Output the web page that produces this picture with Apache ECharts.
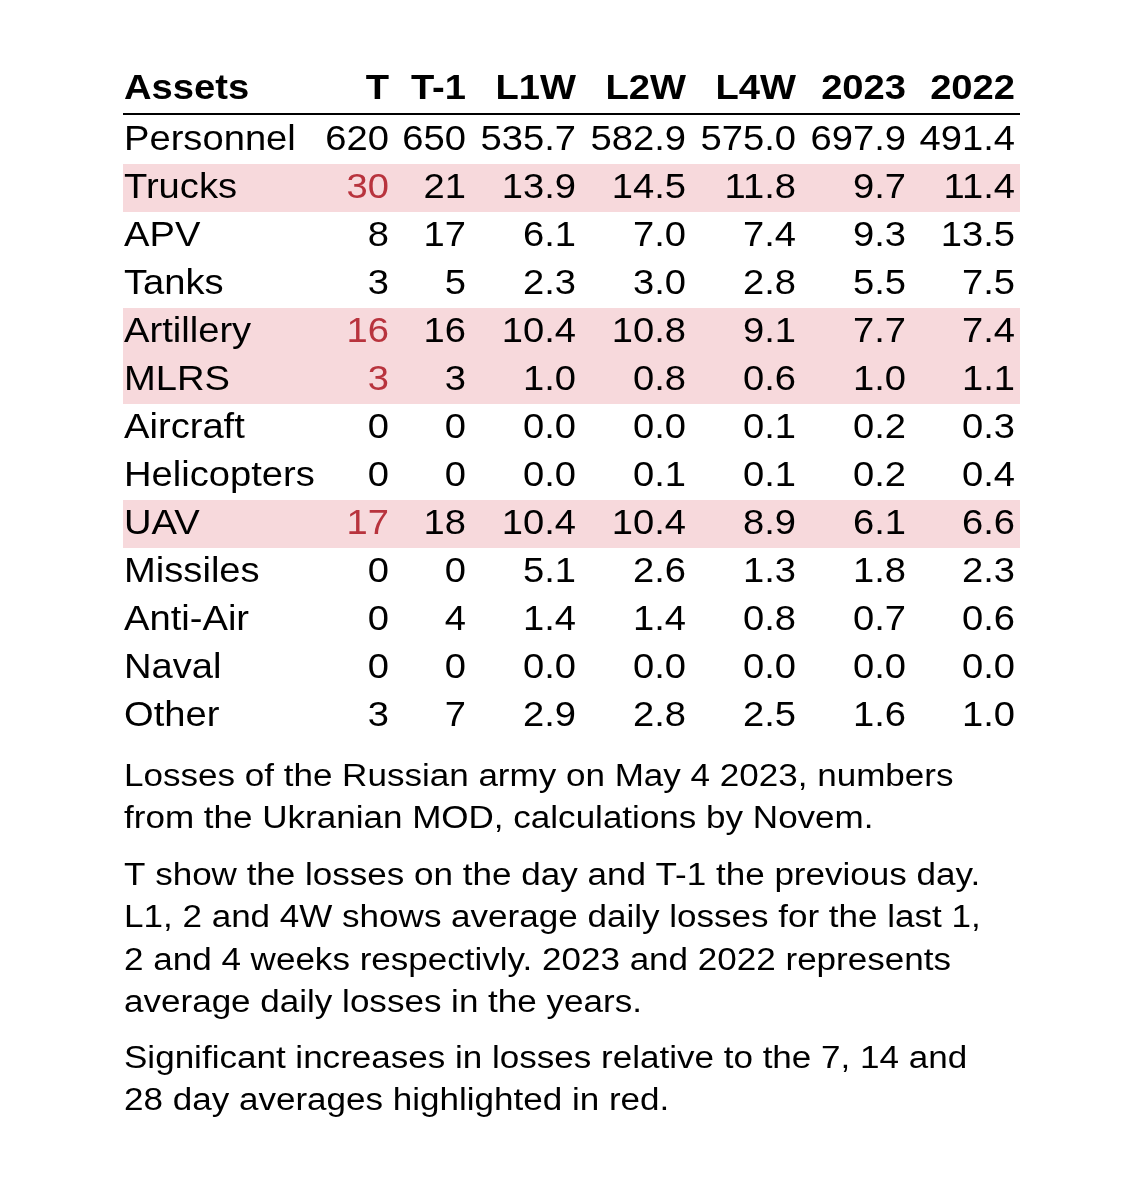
<!DOCTYPE html>
<html><head><meta charset="utf-8">
<script src="https://cdn.jsdelivr.net/npm/echarts@6/dist/echarts.min.js"></script>
<style>html,body{margin:0;background:#fff}#chart{width:1140px;height:1182px}</style>
</head><body><div id="chart"></div>
<script>
var columns = ['Assets', 'T', 'T-1', 'L1W', 'L2W', 'L4W', '2023', '2022'];
var assets = ['Personnel', 'Trucks', 'APV', 'Tanks', 'Artillery', 'MLRS', 'Aircraft', 'Helicopters', 'UAV', 'Missiles', 'Anti-Air', 'Naval', 'Other'];
var tVals = ['620', '30', '8', '3', '16', '3', '0', '0', '17', '0', '0', '0', '3'];
var t1Vals = ['650', '21', '17', '5', '16', '3', '0', '0', '18', '0', '4', '0', '7'];
var l1wVals = ['535.7', '13.9', '6.1', '2.3', '10.4', '1.0', '0.0', '0.0', '10.4', '5.1', '1.4', '0.0', '2.9'];
var l2wVals = ['582.9', '14.5', '7.0', '3.0', '10.8', '0.8', '0.0', '0.1', '10.4', '2.6', '1.4', '0.0', '2.8'];
var l4wVals = ['575.0', '11.8', '7.4', '2.8', '9.1', '0.6', '0.1', '0.1', '8.9', '1.3', '0.8', '0.0', '2.5'];
var y2023Vals = ['697.9', '9.7', '9.3', '5.5', '7.7', '1.0', '0.2', '0.2', '6.1', '1.8', '0.7', '0.0', '1.6'];
var y2022Vals = ['491.4', '11.4', '13.5', '7.5', '7.4', '1.1', '0.3', '0.4', '6.6', '2.3', '0.6', '0.0', '1.0'];
var highlighted = ['Trucks', 'Artillery', 'MLRS', 'UAV'];

// right edge of each value column (x axis runs over the page width)
var colRight = [124, 389, 466, 576, 686, 796, 906, 1015];
var font = 'Liberation Sans, Arial, sans-serif';
var stretch = 1.09;

var rows = assets.map(function (a, i) {
  return [i, a, tVals[i], t1Vals[i], l1wVals[i], l2wVals[i], l4wVals[i], y2023Vals[i], y2022Vals[i]];
});

var chart = echarts.init(document.getElementById('chart'));

function cellText(x, y, text, align, fill) {
  return {type: 'text', x: x, y: y, scaleX: stretch,
    style: {x: 0, y: 0, text: text, font: '35px ' + font, fill: fill, textVerticalAlign: 'middle', textAlign: align}};
}

function renderRow(params, api) {
  var i = api.value(0);
  var name = assets[i];
  var y = api.coord([0, i])[1];
  var h = api.size([0, 1])[1];
  var hl = highlighted.indexOf(name) >= 0;
  var kids = [];
  if (hl) {
    var l = api.coord([123, i])[0], r = api.coord([1020, i])[0];
    kids.push({type: 'rect', shape: {x: l, y: y - h / 2, width: r - l, height: h}, style: {fill: '#f7d9dc'}});
  }
  kids.push(cellText(api.coord([colRight[0], i])[0], y, name, 'left', '#000'));
  for (var k = 1; k < 8; k++) {
    kids.push(cellText(api.coord([colRight[k], i])[0], y, rows[i][k + 1], 'right', (hl && k === 1) ? '#b8333d' : '#000'));
  }
  return {type: 'group', children: kids};
}

var headerEls = columns.map(function (c, k) {
  return {type: 'text', x: colRight[k], y: 89, scaleX: stretch,
    style: {x: 0, y: 0, text: c, font: 'bold 35px ' + font, fill: '#000', textAlign: k === 0 ? 'left' : 'right', textVerticalAlign: 'middle'}};
});

var notes = [
  {top: 756, text: 'Losses of the Russian army on May 4 2023, numbers\nfrom the Ukranian MOD, calculations by Novem.'},
  {top: 855, text: 'T show the losses on the day and T-1 the previous day.\nL1, 2 and 4W shows average daily losses for the last 1,\n2 and 4 weeks respectivly. 2023 and 2022 represents\naverage daily losses in the years.'},
  {top: 1038, text: 'Significant increases in losses relative to the 7, 14 and\n28 day averages highlighted in red.'}
];

chart.setOption({
  animation: false,
  grid: {left: 0, right: 0, top: 116, height: 624},
  xAxis: {type: 'value', min: 0, max: 1140, show: false},
  yAxis: {type: 'category', data: assets, inverse: true, show: false},
  series: [{type: 'custom', renderItem: renderRow, data: rows, encode: {x: 0, y: 0}}],
  graphic: headerEls.concat([
    {type: 'rect', left: 123, top: 113, shape: {width: 897, height: 2}, style: {fill: '#000'}}
  ]).concat(notes.map(function (n) {
    return {type: 'text', x: 124, y: n.top, scaleX: 1.13,
      style: {x: 0, y: 0, text: n.text, font: '31px ' + font, lineHeight: 42.5, fill: '#000'}};
  }))
});
</script></body></html>
